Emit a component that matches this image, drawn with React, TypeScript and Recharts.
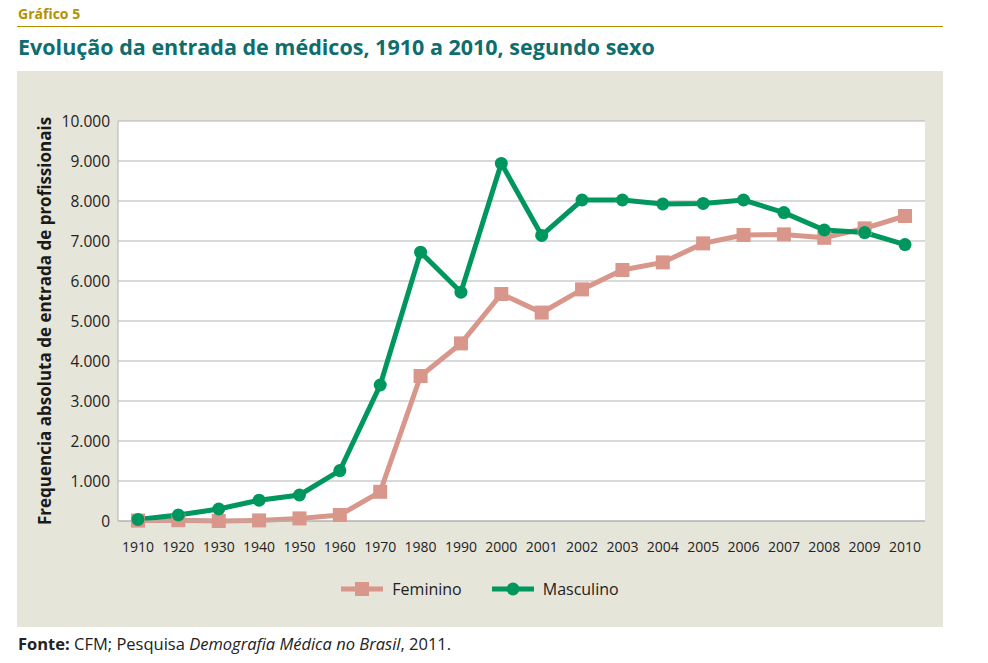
import React from "react";
import { LineChart, Line, XAxis, YAxis, CartesianGrid, Legend } from "recharts";

const years = ["1910","1920","1930","1940","1950","1960","1970","1980","1990","2000","2001","2002","2003","2004","2005","2006","2007","2008","2009","2010"];
const feminino = [10, 20, 0, 15, 65, 150, 730, 3625, 4440, 5675, 5210, 5790, 6275, 6465, 6940, 7150, 7165, 7080, 7315, 7625];
const masculino = [40, 150, 300, 520, 650, 1260, 3400, 6720, 5720, 8940, 7140, 8025, 8025, 7925, 7940, 8025, 7710, 7275, 7210, 6910];
const yTicks = [0, 1000, 2000, 3000, 4000, 5000, 6000, 7000, 8000, 9000, 10000];

const data = years.map((y, i) => ({ year: y, Feminino: feminino[i], Masculino: masculino[i] }));

const PINK = "#d9968a";
const GREEN = "#00975f";
const FONT = "'Open Sans', 'Noto Sans', sans-serif";

const fmt = (v: number) => String(v).replace(/\B(?=(\d{3})+(?!\d))/g, ".");

const Square = (props: any) => {
  const { cx, cy } = props;
  if (cx == null || cy == null) return null;
  return <rect x={cx - 7} y={cy - 7} width={14} height={14} fill={PINK} />;
};
const Dot = (props: any) => {
  const { cx, cy } = props;
  if (cx == null || cy == null) return null;
  return <circle cx={cx} cy={cy} r={6.5} fill={GREEN} />;
};

const LegendContent = () => (
  <div style={{ display: "flex", justifyContent: "center", alignItems: "center", fontFamily: FONT, fontSize: 16, color: "#222" }}>
    <svg width={42} height={14} style={{ marginRight: 9 }}>
      <line x1={0} y1={7} x2={42} y2={7} stroke={PINK} strokeWidth={5} />
      <rect x={14} y={0} width={14} height={14} fill={PINK} />
    </svg>
    <span style={{ marginRight: 30 }}>Feminino</span>
    <svg width={42} height={14} style={{ marginRight: 9 }}>
      <line x1={0} y1={7} x2={42} y2={7} stroke={GREEN} strokeWidth={5} />
      <circle cx={21} cy={7} r={6.5} fill={GREEN} />
    </svg>
    <span>Masculino</span>
  </div>
);

const YLabel = () => (
  <text x={34} y={250} transform="rotate(-90, 34, 250)" textAnchor="middle" fontFamily={FONT} fontWeight={700} fontSize={17} fill="#1a1a1a">
    Frequencia absoluta de entrada de profissionais
  </text>
);

export default function App() {
  return (
    <div style={{ position: "absolute", left: 0, top: 0, width: 988, height: 663, background: "#fff", fontFamily: FONT }}>
      <div style={{ position: "absolute", left: 18, top: 4, fontSize: 14, fontWeight: 700, color: "#b39200" }}>Gráfico 5</div>
      <div style={{ position: "absolute", left: 17, top: 26, width: 926, height: 1, background: "#b39200" }} />
      <div style={{ position: "absolute", left: 18, top: 32, fontSize: 21.5, fontWeight: 700, color: "#0e6d6e", whiteSpace: "nowrap" }}>
        Evolução da entrada de médicos, 1910 a 2010, segundo sexo
      </div>
      <div style={{ position: "absolute", left: 17, top: 71, width: 926, height: 556, background: "#e6e5da" }}>
        <LineChart width={926} height={556} data={data} margin={{ top: 50, right: 18, bottom: 76, left: 41 }}>
          <CartesianGrid vertical={false} stroke="#b3b3b3" strokeWidth={1} fill="#ffffff" />
          <XAxis dataKey="year" padding={{ left: 20, right: 20 }} tickLine={false} axisLine={{ stroke: "#b3b3b3" }} tickSize={0} tickMargin={21} tick={{ fontSize: 14, fill: "#222", fontFamily: FONT }} interval={0} />
          <YAxis domain={[0, 10000]} ticks={yTicks} width={60} tickFormatter={fmt} tickLine={false} axisLine={{ stroke: "#b3b3b3" }} tickSize={0} tickMargin={8} tick={{ fontSize: 15.5, fill: "#222", fontFamily: FONT }} label={<YLabel />} />
          <YAxis yAxisId="r" orientation="right" width={0} domain={[0, 10000]} tick={false} tickLine={false} axisLine={{ stroke: "#b3b3b3" }} />
          <Legend layout="horizontal" verticalAlign="middle" align="center" wrapperStyle={{ top: 507, left: 0, width: 926 }} content={<LegendContent />} />
          <Line dataKey="Feminino" stroke={PINK} strokeWidth={5} dot={<Square />} activeDot={false} isAnimationActive={false} />
          <Line dataKey="Masculino" stroke={GREEN} strokeWidth={5} dot={<Dot />} activeDot={false} isAnimationActive={false} />
        </LineChart>
      </div>
      <div style={{ position: "absolute", left: 18, top: 632, fontSize: 16.5, color: "#222", whiteSpace: "nowrap" }}>
        <b>Fonte:</b> CFM; Pesquisa <i>Demografia Médica no Brasil</i>, 2011.
      </div>
    </div>
  );
}
